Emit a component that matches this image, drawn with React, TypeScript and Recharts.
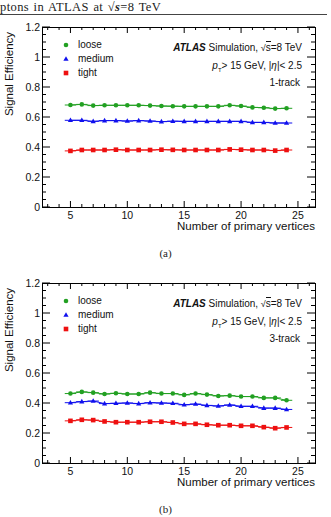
import React from "react";
import { ComposedChart, Scatter, XAxis, YAxis, ErrorBar } from "recharts";

const SANS = "'Liberation Sans', Arial, sans-serif";
const SERIF = "'Liberation Serif', 'DejaVu Serif', serif";

const NPV = [5, 6, 7, 8, 9, 10, 11, 12, 13, 14, 15, 16, 17, 18, 19, 20, 21, 22, 23, 24];

// 1-track efficiencies
const LOOSE_1 = [0.68, 0.684, 0.676, 0.678, 0.678, 0.678, 0.678, 0.676, 0.673, 0.672, 0.671, 0.671, 0.671, 0.671, 0.678, 0.673, 0.664, 0.662, 0.656, 0.658];
const MEDIUM_1 = [0.578, 0.578, 0.571, 0.576, 0.576, 0.573, 0.576, 0.573, 0.569, 0.572, 0.571, 0.571, 0.571, 0.571, 0.571, 0.571, 0.564, 0.564, 0.56, 0.56];
const TIGHT_1 = [0.374, 0.38, 0.38, 0.38, 0.382, 0.38, 0.38, 0.38, 0.382, 0.381, 0.38, 0.38, 0.38, 0.38, 0.384, 0.382, 0.38, 0.38, 0.376, 0.38];

// 3-track efficiencies
const LOOSE_3 = [0.463, 0.474, 0.469, 0.46, 0.465, 0.46, 0.46, 0.469, 0.463, 0.463, 0.454, 0.463, 0.456, 0.447, 0.449, 0.443, 0.443, 0.434, 0.434, 0.418];
const MEDIUM_3 = [0.402, 0.409, 0.413, 0.396, 0.398, 0.4, 0.396, 0.402, 0.4, 0.398, 0.388, 0.393, 0.384, 0.38, 0.387, 0.378, 0.378, 0.366, 0.366, 0.357];
const TIGHT_3 = [0.281, 0.288, 0.286, 0.277, 0.272, 0.272, 0.272, 0.275, 0.275, 0.27, 0.261, 0.261, 0.255, 0.252, 0.252, 0.248, 0.248, 0.239, 0.232, 0.237];

const BIN_HALF = 0.5;

const X_MAJOR = [5, 10, 15, 20, 25];
const Y_MAJOR = [0, 0.2, 0.4, 0.6, 0.8, 1, 1.2];
const X_DOMAIN = [2.5, 26.5];
const Y_DOMAIN = [0, 1.2];

const X_TICKS: number[] = [];
for (let v = 3; v <= 26; v++) X_TICKS.push(v);
const Y_TICKS: number[] = [];
for (let i = 0; i <= 24; i++) Y_TICKS.push(Math.round(i * 5) / 100);

const COLORS = { loose: "#22a022", medium: "#1010ee", tight: "#ee1010" };

// plot box geometry
const CHART_W = 331;
const CHART_H = 240;
const M_TOP = 27;
const M_RIGHT = 16;
const Y_AXIS_W = 42;
const X_AXIS_H = 33;
const PLOT_W = CHART_W - M_RIGHT - Y_AXIS_W;
const PLOT_H = CHART_H - M_TOP - X_AXIS_H;

const isMajor = (list: number[], v: number) => list.some((m) => Math.abs(m - v) < 1e-6);

// bottom ticks, mirrored on the top edge
const XTick = (props: any) => {
  const { x, y, payload } = props;
  const major = isMajor(X_MAJOR, payload.value);
  const len = major ? 6 : 3;
  return (
    <g>
      <line x1={x} x2={x} y1={y} y2={y - len} stroke="#000" strokeWidth={1} />
      <line x1={x} x2={x} y1={y - PLOT_H} y2={y - PLOT_H + len} stroke="#000" strokeWidth={1} />
      {major && (
        <text x={x} y={y + 12} textAnchor="middle" fontSize={10.5} fontFamily={SANS} fill="#111">
          {payload.value}
        </text>
      )}
    </g>
  );
};

// left ticks, mirrored on the right edge
const YTick = (props: any) => {
  const { x, y, payload } = props;
  const major = isMajor(Y_MAJOR, payload.value);
  const len = major ? 8 : 4;
  const label = Y_MAJOR.find((m) => Math.abs(m - payload.value) < 1e-6);
  return (
    <g>
      <line x1={x} x2={x + len} y1={y} y2={y} stroke="#000" strokeWidth={1} />
      <line x1={x + PLOT_W} x2={x + PLOT_W - len} y1={y} y2={y} stroke="#000" strokeWidth={1} />
      {major && (
        <text x={x - 2} y={y + 3.8} textAnchor="end" fontSize={10.5} fontFamily={SANS} fill="#111">
          {String(label)}
        </text>
      )}
    </g>
  );
};

const Circle = (color: string) => (p: any) => <circle cx={p.cx} cy={p.cy} r={2.3} fill={color} />;
const Triangle = (color: string) => (p: any) => (
  <polygon points={`${p.cx},${p.cy - 2.8} ${p.cx - 2.6},${p.cy + 1.8} ${p.cx + 2.6},${p.cy + 1.8}`} fill={color} />
);
const Square = (color: string) => (p: any) => <rect x={p.cx - 2.3} y={p.cy - 2.3} width={4.6} height={4.6} fill={color} />;

const rows = (vals: number[]) => NPV.map((n, i) => ({ npv: n, eff: vals[i], xerr: BIN_HALF }));

const LegendMark = ({ kind, color }: { kind: string; color: string }) => (
  <svg width={8} height={8} style={{ position: "absolute", left: -4, top: -4 }}>
    {kind === "circle" && <circle cx={4} cy={4} r={2.3} fill={color} />}
    {kind === "triangle" && <polygon points="4,1.2 1.4,5.8 6.6,5.8" fill={color} />}
    {kind === "square" && <rect x={1.7} y={1.7} width={4.6} height={4.6} fill={color} />}
  </svg>
);

type PanelProps = {
  top: number;
  loose: number[];
  medium: number[];
  tight: number[];
  label: string;
  caption: string;
};

const txt: React.CSSProperties = {
  position: "absolute",
  fontFamily: SANS,
  fontSize: 10,
  lineHeight: "12px",
  whiteSpace: "nowrap",
  color: "#111",
};

function Panel({ top, loose, medium, tight, label, caption }: PanelProps) {
  const series = [
    { key: "loose", vals: loose, color: COLORS.loose, shape: Circle(COLORS.loose) },
    { key: "medium", vals: medium, color: COLORS.medium, shape: Triangle(COLORS.medium) },
    { key: "tight", vals: tight, color: COLORS.tight, shape: Square(COLORS.tight) },
  ];
  const legend = [
    { name: "loose", kind: "circle", color: COLORS.loose },
    { name: "medium", kind: "triangle", color: COLORS.medium },
    { name: "tight", kind: "square", color: COLORS.tight },
  ];
  return (
    <div style={{ position: "absolute", left: 0, top, width: 331, height: 256 }}>
      <ComposedChart width={CHART_W} height={CHART_H} margin={{ top: M_TOP, right: M_RIGHT, left: 0, bottom: 0 }}>
        <XAxis
          dataKey="npv"
          type="number"
          domain={X_DOMAIN}
          ticks={X_TICKS}
          interval={0}
          height={X_AXIS_H}
          tickSize={0}
          tickMargin={0}
          tickLine={false}
          axisLine={false}
          tick={XTick}
          allowDataOverflow
        />
        <YAxis
          dataKey="eff"
          type="number"
          domain={Y_DOMAIN}
          ticks={Y_TICKS}
          interval={0}
          width={Y_AXIS_W}
          tickSize={0}
          tickMargin={0}
          tickLine={false}
          axisLine={false}
          tick={YTick}
          allowDataOverflow
        />
        {series.map((s) => (
          <Scatter
            key={s.key}
            name={s.key}
            data={rows(s.vals)}
            dataKey="eff"
            line={{ stroke: s.color, strokeWidth: 1 }}
            lineType="joint"
            shape={s.shape}
            isAnimationActive={false}
          >
            <ErrorBar dataKey="xerr" direction="x" width={0} stroke={s.color} strokeWidth={1} />
          </Scatter>
        ))}
      </ComposedChart>

      {/* frame */}
      <div
        style={{
          position: "absolute",
          left: Y_AXIS_W - 0.5,
          top: M_TOP - 0.5,
          width: PLOT_W - 1,
          height: PLOT_H - 1,
          border: "1px solid #000",
          pointerEvents: "none",
        }}
      />

      <div
        style={{
          ...txt,
          left: 9,
          top: 74,
          transform: "translate(-50%, -50%) rotate(-90deg)",
          fontSize: 11.5,
        }}
      >
        Signal Efficiency
      </div>

      {legend.map((l, i) => (
        <div key={l.name} style={{ position: "absolute", left: 66, top: 45 + i * 14 }}>
          <LegendMark kind={l.kind} color={l.color} />
          <div style={{ ...txt, left: 12, top: -6 }}>{l.name}</div>
        </div>
      ))}

      <div style={{ ...txt, right: 29, top: 42 }}>
        <b><i>ATLAS</i></b> Simulation, <span style={{ fontSize: 9 }}>√</span>
        <span style={{ borderTop: "1px solid #111" }}>s</span>=8 TeV
      </div>
      <div style={{ ...txt, right: 29, top: 60 }}>
        <i>p</i>
        <sub style={{ fontSize: 6, verticalAlign: "-3px" }}>T</sub>&gt; 15 GeV, |<i>η</i>|&lt; 2.5
      </div>
      <div style={{ ...txt, right: 31, top: 77 }}>{label}</div>

      <div style={{ ...txt, right: 16, top: 220, fontSize: 11.5, lineHeight: "13px" }}>
        Number of primary vertices
      </div>

      <div style={{ ...txt, left: 0, width: 331, top: 247, textAlign: "center", fontFamily: SERIF, fontSize: 11, lineHeight: "13px", color: "#222" }}>
        {caption}
      </div>
    </div>
  );
}

export default function App() {
  return (
    <div style={{ position: "fixed", left: 0, top: 0, width: 331, height: 517, background: "#fff", overflow: "hidden" }}>
      <div style={{ position: "absolute", left: 0, top: 1, fontFamily: SERIF, fontSize: 12.5, lineHeight: "12px", letterSpacing: 0.4, wordSpacing: 1, whiteSpace: "nowrap", color: "#222" }}>
        ptons in ATLAS at √<span style={{ borderTop: "1px solid #222", fontStyle: "italic", fontWeight: "bold" }}>s</span>=8 TeV
      </div>
      <div style={{ position: "absolute", left: 0, top: 14, width: 327, height: 1, background: "#444" }} />
      <Panel top={0} loose={LOOSE_1} medium={MEDIUM_1} tight={TIGHT_1} label="1-track" caption="(a)" />
      <Panel top={256} loose={LOOSE_3} medium={MEDIUM_3} tight={TIGHT_3} label="3-track" caption="(b)" />
    </div>
  );
}
